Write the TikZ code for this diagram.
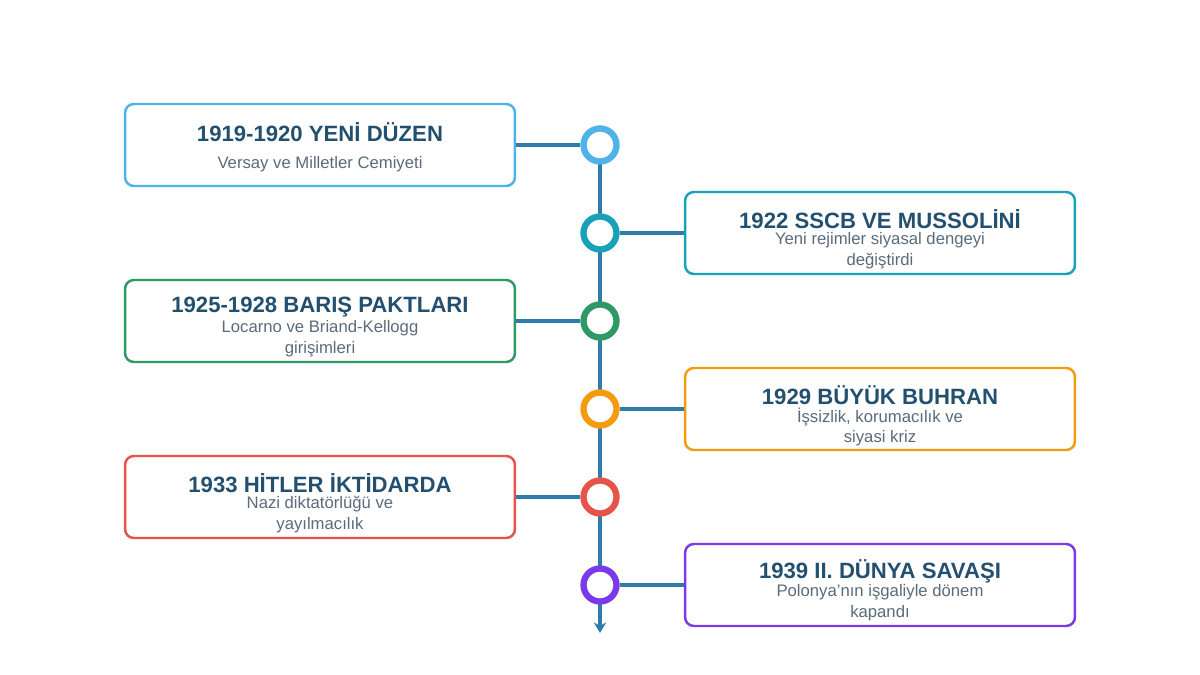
\documentclass[tikz,border=0pt]{standalone}
\usepackage{fontspec}
\setmainfont{Liberation Sans}
\usetikzlibrary{positioning}
\usetikzlibrary{arrows.meta}

\definecolor{axisblue}{HTML}{2E7DA8}
\definecolor{titleblue}{HTML}{24506F}
\definecolor{descgray}{HTML}{5B6B7B}
\definecolor{cA}{HTML}{4DB3E8}
\definecolor{cB}{HTML}{17A2B8}
\definecolor{cC}{HTML}{2E9966}
\definecolor{cD}{HTML}{F39C12}
\definecolor{cE}{HTML}{E5534B}
\definecolor{cF}{HTML}{7B3AE8}

\tikzset{
  card/.style={draw=#1, line width=1.4pt, rounded corners=5pt, fill=white,
    minimum width=7.8cm, minimum height=1.64cm},
  dot/.style={circle, draw=#1, line width=3.6pt, fill=white, minimum size=0.66cm, inner sep=0pt},
  head/.style={font=\bfseries\fontsize{12.6}{14}\selectfont, text=titleblue},
  desc/.style={font=\fontsize{9.5}{11.9}\selectfont, text=descgray, align=center},
  link/.style={draw=axisblue, line width=1.8pt}
}

\begin{document}
\begin{tikzpicture}[x=0.02cm, y=-0.02cm]
  \useasboundingbox (0,0) rectangle (1200,675);

  % Axis
  \coordinate (top) at (600,145);
  \coordinate (bottom) at (600,633);
  \draw[axisblue, line width=2.8pt, -{Stealth[length=6pt,width=7pt]}] (top) -- (bottom);

  % Cards
  \node[card=cA] (box1) at (320,145) {};
  \node[card=cB] (box2) at (880,233) {};
  \node[card=cC] (box3) at (320,321) {};
  \node[card=cD] (box4) at (880,409) {};
  \node[card=cE] (box5) at (320,497) {};
  \node[card=cF] (box6) at (880,585) {};

  % Dots
  \node[dot=cA] (dot1) at (600,145) {};
  \node[dot=cB] (dot2) at (600,233) {};
  \node[dot=cC] (dot3) at (600,321) {};
  \node[dot=cD] (dot4) at (600,409) {};
  \node[dot=cE] (dot5) at (600,497) {};
  \node[dot=cF] (dot6) at (600,585) {};

  % Links
  \draw[link] (box1.east) -- (dot1.west);
  \draw[link] (dot2.east) -- (box2.west);
  \draw[link] (box3.east) -- (dot3.west);
  \draw[link] (dot4.east) -- (box4.west);
  \draw[link] (box5.east) -- (dot5.west);
  \draw[link] (dot6.east) -- (box6.west);

  % Texts
  \node[head] (head1) at (320,132) {1919-1920 YENİ DÜZEN};
  \node[desc] (desc1) at (320,164) {Versay ve Milletler Cemiyeti};
  \node[head] (head2) at (880,219) {1922 SSCB VE MUSSOLİNİ};
  \node[desc] (desc2) at (880,251) {Yeni rejimler siyasal dengeyi\\değiştirdi};
  \node[head] (head3) at (320,307) {1925-1928 BARIŞ PAKTLARI};
  \node[desc] (desc3) at (320,339) {Locarno ve Briand-Kellogg\\girişimleri};
  \node[head] (head4) at (880,395) {1929 BÜYÜK BUHRAN};
  \node[desc] (desc4) at (880,427) {İşsizlik, korumacılık ve\\siyasi kriz};
  \node[head] (head5) at (320,483) {1933 HİTLER İKTİDARDA};
  \node[desc] (desc5) at (320,515) {Nazi diktatörlüğü ve\\yayılmacılık};
  \node[head] (head6) at (880,571) {1939 II. DÜNYA SAVAŞI};
  \node[desc] (desc6) at (880,603) {Polonya'nın işgaliyle dönem\\kapandı};
\end{tikzpicture}
\end{document}
